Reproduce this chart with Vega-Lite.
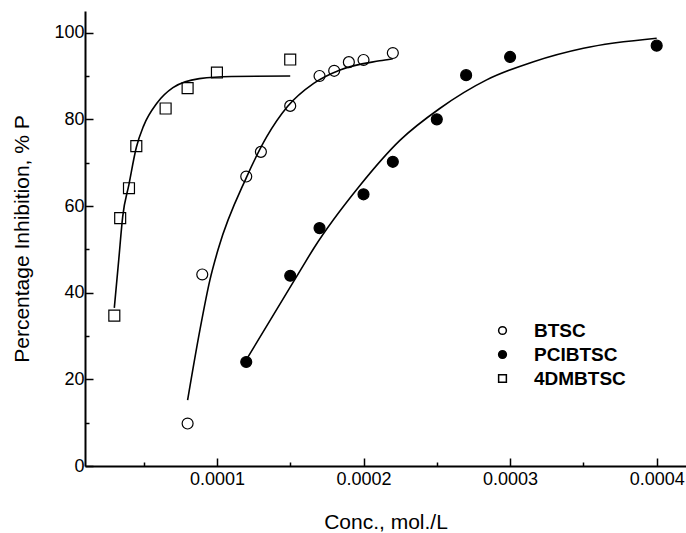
{
  "$schema": "https://vega.github.io/schema/vega-lite/v6.json",
  "width": 601,
  "height": 455,
  "autosize": {"type": "none"},
  "padding": {"left": 85, "top": 11, "right": 0, "bottom": 67},
  "background": "white",
  "config": {
    "view": {"stroke": null},
    "font": "Liberation Sans",
    "axis": {
      "grid": false,
      "domainColor": "black",
      "domainWidth": 2,
      "tickColor": "black",
      "tickWidth": 1.5,
      "labelColor": "black",
      "labelFont": "Liberation Sans",
      "labelFontSize": 18,
      "titleFont": "Liberation Sans",
      "titleFontWeight": "normal",
      "titleColor": "black",
      "titleFontSize": 21
    }
  },
  "datasets": {
    "pts": [
      {"series": "4DMBTSC", "conc": 0.00003, "inhibition": 34.7},
      {"series": "4DMBTSC", "conc": 0.000034, "inhibition": 57.2},
      {"series": "4DMBTSC", "conc": 0.00004, "inhibition": 64.1},
      {"series": "4DMBTSC", "conc": 0.000045, "inhibition": 73.8},
      {"series": "4DMBTSC", "conc": 0.000065, "inhibition": 82.5},
      {"series": "4DMBTSC", "conc": 0.00008, "inhibition": 87.2},
      {"series": "4DMBTSC", "conc": 0.0001, "inhibition": 90.8},
      {"series": "4DMBTSC", "conc": 0.00015, "inhibition": 93.8},
      {"series": "BTSC", "conc": 0.00008, "inhibition": 9.8},
      {"series": "BTSC", "conc": 0.00009, "inhibition": 44.2},
      {"series": "BTSC", "conc": 0.00012, "inhibition": 66.8},
      {"series": "BTSC", "conc": 0.00013, "inhibition": 72.5},
      {"series": "BTSC", "conc": 0.00015, "inhibition": 83.1},
      {"series": "BTSC", "conc": 0.00017, "inhibition": 90.0},
      {"series": "BTSC", "conc": 0.00018, "inhibition": 91.2},
      {"series": "BTSC", "conc": 0.00019, "inhibition": 93.2},
      {"series": "BTSC", "conc": 0.0002, "inhibition": 93.7},
      {"series": "BTSC", "conc": 0.00022, "inhibition": 95.3},
      {"series": "PCIBTSC", "conc": 0.00012, "inhibition": 24.0},
      {"series": "PCIBTSC", "conc": 0.00015, "inhibition": 43.9},
      {"series": "PCIBTSC", "conc": 0.00017, "inhibition": 54.9},
      {"series": "PCIBTSC", "conc": 0.0002, "inhibition": 62.7},
      {"series": "PCIBTSC", "conc": 0.00022, "inhibition": 70.2},
      {"series": "PCIBTSC", "conc": 0.00025, "inhibition": 80.0},
      {"series": "PCIBTSC", "conc": 0.00027, "inhibition": 90.2},
      {"series": "PCIBTSC", "conc": 0.0003, "inhibition": 94.4},
      {"series": "PCIBTSC", "conc": 0.0004, "inhibition": 97.0}
    ],
    "fit": [
      {"series": "4DMBTSC", "conc": 0.00003, "inhibition": 36.5},
      {"series": "4DMBTSC", "conc": 0.000033, "inhibition": 47.5},
      {"series": "4DMBTSC", "conc": 0.0000357, "inhibition": 57.5},
      {"series": "4DMBTSC", "conc": 0.00004, "inhibition": 65.0},
      {"series": "4DMBTSC", "conc": 0.000045, "inhibition": 73.5},
      {"series": "4DMBTSC", "conc": 0.00005, "inhibition": 78.5},
      {"series": "4DMBTSC", "conc": 0.000059, "inhibition": 83.7},
      {"series": "4DMBTSC", "conc": 0.00007, "inhibition": 87.3},
      {"series": "4DMBTSC", "conc": 0.000088, "inhibition": 89.4},
      {"series": "4DMBTSC", "conc": 0.00011, "inhibition": 89.9},
      {"series": "4DMBTSC", "conc": 0.00015, "inhibition": 90.0},
      {"series": "BTSC", "conc": 0.00008, "inhibition": 15.2},
      {"series": "BTSC", "conc": 0.0000884, "inhibition": 31.4},
      {"series": "BTSC", "conc": 0.0000952, "inhibition": 42.9},
      {"series": "BTSC", "conc": 0.000101, "inhibition": 50.2},
      {"series": "BTSC", "conc": 0.00012, "inhibition": 66.5},
      {"series": "BTSC", "conc": 0.000134, "inhibition": 76.0},
      {"series": "BTSC", "conc": 0.000148, "inhibition": 82.9},
      {"series": "BTSC", "conc": 0.000166, "inhibition": 88.3},
      {"series": "BTSC", "conc": 0.000184, "inhibition": 91.4},
      {"series": "BTSC", "conc": 0.000211, "inhibition": 93.5},
      {"series": "BTSC", "conc": 0.00022, "inhibition": 94.0},
      {"series": "PCIBTSC", "conc": 0.00012, "inhibition": 24.5},
      {"series": "PCIBTSC", "conc": 0.000157, "inhibition": 45.2},
      {"series": "PCIBTSC", "conc": 0.000166, "inhibition": 50.2},
      {"series": "PCIBTSC", "conc": 0.000197, "inhibition": 64.5},
      {"series": "PCIBTSC", "conc": 0.000225, "inhibition": 75.2},
      {"series": "PCIBTSC", "conc": 0.000252, "inhibition": 82.5},
      {"series": "PCIBTSC", "conc": 0.000284, "inhibition": 89.1},
      {"series": "PCIBTSC", "conc": 0.000316, "inhibition": 93.3},
      {"series": "PCIBTSC", "conc": 0.00035, "inhibition": 96.4},
      {"series": "PCIBTSC", "conc": 0.0004, "inhibition": 98.7}
    ]
  },
  "encoding": {
    "x": {
      "field": "conc",
      "type": "quantitative",
      "scale": {"domain": [0.00001, 0.00042], "nice": false, "zero": false},
      "axis": {
        "title": "Conc., mol./L",
        "values": [0.00005, 0.0001, 0.00015, 0.0002, 0.00025, 0.0003, 0.00035, 0.0004],
        "labelExpr": "abs(datum.value*10000 - round(datum.value*10000)) < 0.000001 ? format(datum.value, '.4f') : ''",
        "tickSize": {"condition": {"test": "abs(datum.value*10000 - round(datum.value*10000)) < 0.000001", "value": -8}, "value": -4},
        "labelPadding": 12,
        "titlePadding": 19,
        "labelFlush": false,
        "labelOverlap": false
      }
    },
    "y": {
      "field": "inhibition",
      "type": "quantitative",
      "scale": {"domain": [0, 105], "nice": false},
      "axis": {
        "title": "Percentage Inhibition, % P",
        "values": [0, 10, 20, 30, 40, 50, 60, 70, 80, 90, 100],
        "labelExpr": "datum.value % 20 === 0 ? datum.label : ''",
        "tickSize": {"condition": {"test": "datum.value % 20 === 0", "value": -8}, "value": -4},
        "labelPadding": 9,
        "titlePadding": 21,
        "labelFlush": false,
        "labelOverlap": false
      }
    }
  },
  "layer": [
    {
      "data": {"name": "pts"},
      "mark": {"type": "point", "stroke": "black", "strokeWidth": 1.2, "opacity": 1, "size": 120},
      "encoding": {
        "shape": {
          "field": "series",
          "type": "nominal",
          "scale": {"domain": ["BTSC", "PCIBTSC", "4DMBTSC"], "range": ["circle", "circle", "square"]},
          "legend": {
            "title": null,
            "orient": "none",
            "legendX": 408,
            "legendY": 310,
            "padding": 0,
            "symbolSize": 60,
            "labelFont": "Liberation Sans",
            "labelFontSize": 19,
            "labelFontWeight": "bold",
            "labelColor": "black",
            "labelOffset": 22,
            "rowPadding": 4,
            "encode": {"symbols": {"update": {"stroke": {"value": "black"}, "strokeWidth": {"value": 1}, "opacity": {"value": 1}}}}
          }
        },
        "fill": {
          "field": "series",
          "type": "nominal",
          "scale": {"domain": ["BTSC", "PCIBTSC", "4DMBTSC"], "range": ["white", "black", "white"]},
          "legend": {
            "title": null,
            "orient": "none",
            "legendX": 408,
            "legendY": 310,
            "padding": 0,
            "symbolSize": 60,
            "labelFont": "Liberation Sans",
            "labelFontSize": 19,
            "labelFontWeight": "bold",
            "labelColor": "black",
            "labelOffset": 22,
            "rowPadding": 4,
            "encode": {"symbols": {"update": {"stroke": {"value": "black"}, "strokeWidth": {"value": 1}, "opacity": {"value": 1}}}}
          }
        }
      }
    },
    {
      "data": {"name": "fit"},
      "mark": {"type": "line", "stroke": "black", "strokeWidth": 1.6, "interpolate": "monotone"},
      "encoding": {
        "detail": {"field": "series", "type": "nominal"}
      }
    },
    {
      "data": {"values": [{}]},
      "mark": {"type": "rule", "stroke": "#777777", "strokeWidth": 1.5},
      "encoding": {
        "y": {"datum": 105, "type": "quantitative"},
        "x": null
      }
    }
  ]
}
